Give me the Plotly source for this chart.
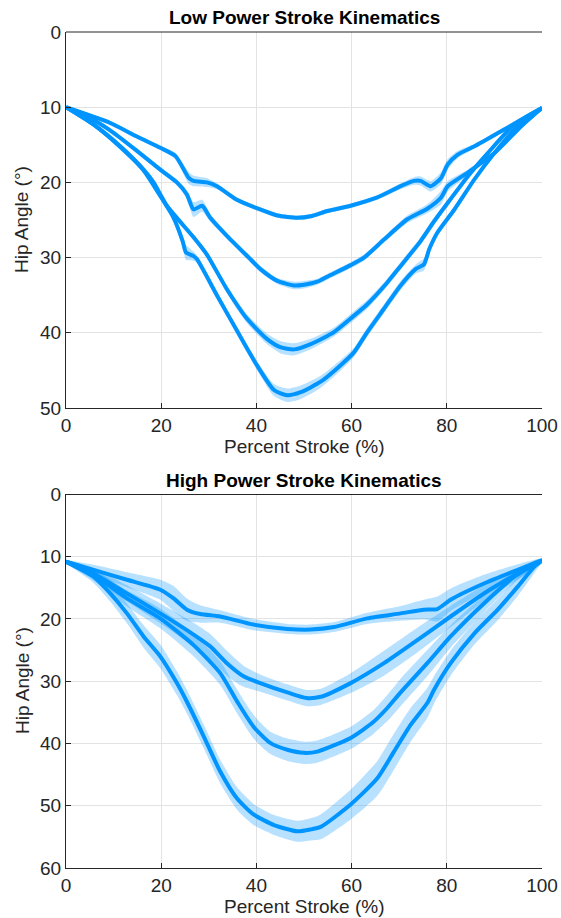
import plotly.graph_objects as go

# ---------------- DATA ----------------
# Low power stroke (top panel): percent stroke vs hip angle (deg), with SD band half-width
low_x1 = [0, 9.3, 14.9, 19.8, 23, 25.8, 26.8, 29.6, 31.7, 35.9, 40.8, 44.4, 48.6, 51.4, 54.9, 59.8, 65.4, 70.3, 73.1, 74.5, 76.6, 78.8, 80.2, 82.3, 85.8, 91.4, 100]
low_y1 = [10, 12.1, 13.9, 15.4, 16.5, 19.4, 19.8, 20, 20.5, 22.3, 23.6, 24.4, 24.7, 24.5, 23.8, 23.1, 22, 20.5, 19.8, 19.8, 20.5, 19.4, 17.6, 16.3, 15.2, 13.2, 10.1]
low_sd1 = [0.2, 0.3, 0.3, 0.3, 0.4, 0.8, 0.7, 0.6, 0.4, 0.3, 0.3, 0.3, 0.3, 0.3, 0.3, 0.3, 0.3, 0.4, 0.5, 0.6, 0.7, 0.8, 0.7, 0.5, 0.3, 0.3, 0.2]

low_x2 = [0, 5.8, 10, 14.9, 19.8, 23.3, 25.4, 26.8, 28.6, 30.3, 33.8, 38.4, 40.8, 44.4, 47.9, 50, 52.8, 55, 59.8, 62.6, 66.8, 71.7, 75.9, 78.8, 80.2, 84.4, 90, 95.7, 100]
low_y2 = [10, 11.7, 13.4, 15.8, 18.3, 20, 21.6, 23.6, 23.1, 24.7, 27.1, 30, 31.5, 33.1, 33.7, 33.6, 33.2, 32.5, 31, 30, 27.6, 24.9, 23.5, 22, 20.5, 18.7, 16.1, 12.5, 10.1]
low_sd2 = [0.2, 0.3, 0.3, 0.3, 0.3, 0.4, 0.6, 1.0, 0.8, 0.5, 0.4, 0.4, 0.4, 0.4, 0.5, 0.5, 0.4, 0.4, 0.4, 0.4, 0.4, 0.5, 0.6, 0.9, 0.7, 0.4, 0.3, 0.3, 0.2]

low_x3 = [0, 5.8, 11.4, 16.3, 18.4, 21.2, 26.8, 29.6, 33.8, 38, 42.2, 45, 47.9, 51.4, 56.3, 59.8, 63.3, 67.5, 70.3, 74.5, 77.3, 80.8, 84.4, 88.6, 94.2, 100]
low_y3 = [10, 12.3, 15.2, 18.3, 20, 23.1, 27.3, 29.6, 34.2, 38.1, 40.8, 41.9, 42.2, 41.5, 39.9, 38.1, 36.2, 33.3, 31.1, 27.8, 25.2, 22.2, 19.2, 16.1, 12.3, 10.1]
low_sd3 = [0.2, 0.3, 0.3, 0.3, 0.3, 0.3, 0.4, 0.4, 0.5, 0.6, 0.7, 0.8, 0.8, 0.7, 0.6, 0.6, 0.6, 0.5, 0.5, 0.5, 0.5, 0.4, 0.4, 0.3, 0.3, 0.2]

low_x4 = [0, 5.8, 11.4, 16.3, 19.8, 22.6, 24.5, 25.2, 26.8, 27.5, 31.7, 35.9, 40.1, 43.7, 46.5, 49.3, 53.5, 57.7, 60.5, 63.3, 66.8, 70.3, 73.5, 75.2, 76.3, 78, 81.6, 85.8, 90, 94.9, 100]
low_y4 = [10, 12.3, 15.3, 18.4, 21.8, 24.7, 27.8, 29.3, 29.8, 30.2, 35, 39.7, 44.3, 47.6, 48.3, 47.9, 46.5, 44.3, 42.6, 39.9, 36.8, 33.7, 31.5, 30.9, 28.9, 26.7, 23.6, 19.6, 16.1, 12.5, 10.1]
low_sd4 = [0.2, 0.3, 0.3, 0.3, 0.4, 0.5, 0.8, 1.0, 0.6, 0.5, 0.5, 0.5, 0.6, 0.8, 0.9, 0.9, 0.8, 0.7, 0.6, 0.6, 0.6, 0.6, 0.6, 0.8, 0.5, 0.4, 0.4, 0.3, 0.3, 0.3, 0.2]

# High power stroke (bottom panel)
high_x1 = [0, 5.8, 12.8, 19.8, 22.6, 25.4, 28.2, 32.4, 39.4, 46.5, 51.4, 56.3, 63.3, 70.3, 75.2, 78, 80.8, 87.8, 94.9, 100]
high_y1 = [10.8, 12.1, 13.7, 15.3, 16.7, 18.5, 19.2, 19.6, 20.9, 21.6, 21.7, 21.3, 19.9, 19.1, 18.5, 18.4, 16.9, 14.3, 12.1, 10.6]
high_sd1 = [0.3, 0.8, 1.2, 1.6, 2.0, 1.8, 1.4, 1.0, 0.9, 0.8, 0.8, 0.8, 0.9, 1.2, 1.6, 2.0, 1.8, 1.4, 0.9, 0.3]

high_x2 = [0, 5.8, 12.8, 19.8, 26.8, 30.3, 33.8, 37.3, 40.8, 46.5, 50.5, 53.5, 59.8, 66.8, 73.8, 80.8, 87.8, 94.9, 100]
high_y2 = [10.8, 12.7, 15.9, 19.1, 22.5, 24.4, 27.1, 29.2, 30.3, 31.8, 32.7, 32.5, 30.3, 27.1, 23.4, 19.6, 15.9, 12.7, 10.6]
high_sd2 = [0.3, 0.9, 1.3, 1.6, 1.9, 2.0, 2.0, 1.7, 1.4, 1.3, 1.3, 1.3, 1.6, 2.0, 2.0, 1.7, 1.3, 0.9, 0.3]

high_x3 = [0, 5.8, 12.8, 19.8, 26.8, 32.4, 35.9, 39.4, 42.9, 46.5, 50, 52.8, 59.8, 64.5, 67.5, 70.3, 75.9, 80.8, 87.8, 94.2, 100]
high_y3 = [10.8, 12.9, 16.7, 19.9, 24.2, 28.7, 33.2, 37.3, 39.9, 41, 41.5, 41.3, 39.1, 36.6, 34.3, 31.8, 27.1, 22.8, 17.5, 13.2, 10.6]
high_sd3 = [0.3, 0.9, 1.3, 1.6, 1.8, 1.9, 1.9, 1.9, 1.8, 1.8, 1.8, 1.8, 1.8, 1.9, 2.1, 2.2, 2.1, 1.8, 1.4, 1.0, 0.3]

high_x4 = [0, 5.8, 9.3, 12.8, 16.3, 19.8, 23.3, 25.4, 28.9, 32.4, 35.9, 39.4, 43.7, 48.6, 51.4, 53.5, 59.8, 65.4, 68.9, 72.4, 75.9, 77.3, 80.8, 85.8, 90.7, 94.9, 98.4, 100]
high_y4 = [10.8, 13.2, 15.9, 19.1, 22.8, 26, 30.3, 33.3, 38.8, 44.5, 48.8, 51.4, 53.1, 54.1, 53.8, 53.4, 49.8, 45.6, 41.3, 37, 33.5, 31.4, 27.1, 22.3, 18.5, 14.8, 11.6, 10.6]
high_sd4 = [0.3, 1.0, 1.3, 1.6, 1.8, 1.9, 1.9, 1.9, 1.9, 1.9, 1.8, 1.7, 1.6, 1.7, 1.8, 2.0, 2.4, 2.8, 2.9, 2.7, 2.4, 2.2, 2.0, 1.8, 1.7, 1.5, 1.0, 0.3]

x_ticks = [0, 20, 40, 60, 80, 100]
low_y_ticks = [0, 10, 20, 30, 40, 50]
high_y_ticks = [0, 10, 20, 30, 40, 50, 60]

titles = ["Low Power Stroke Kinematics", "High Power Stroke Kinematics"]
x_label = "Percent Stroke (%)"
y_label = "Hip Angle (°)"

# ---------------- STYLE ----------------
LINE = "rgb(0,148,255)"
BAND = "rgba(0,148,255,0.28)"
TXT = "#262626"
GRID = "#e3e3e3"
FONT = "Liberation Sans, Arial, Helvetica, sans-serif"

fig = go.Figure()

panels = [
    ("x", "y", [(low_x1, low_y1, low_sd1), (low_x2, low_y2, low_sd2),
                (low_x3, low_y3, low_sd3), (low_x4, low_y4, low_sd4)]),
    ("x2", "y2", [(high_x1, high_y1, high_sd1), (high_x2, high_y2, high_sd2),
                  (high_x3, high_y3, high_sd3), (high_x4, high_y4, high_sd4)]),
]

for xa, ya, series in panels:
    for xs, ys, sds in series:
        up = [y - s for y, s in zip(ys, sds)]
        lo = [y + s for y, s in zip(ys, sds)]
        fig.add_trace(go.Scatter(
            x=list(xs) + list(xs)[::-1], y=up + lo[::-1],
            fill="toself", fillcolor=BAND, mode="lines",
            line=dict(width=0, shape="spline", smoothing=0.6),
            hoverinfo="skip", showlegend=False, xaxis=xa, yaxis=ya))
    for xs, ys, sds in series:
        fig.add_trace(go.Scatter(
            x=xs, y=ys, mode="lines",
            line=dict(color=LINE, width=4, shape="spline", smoothing=0.6),
            showlegend=False, xaxis=xa, yaxis=ya))

axis_common = dict(
    showgrid=True, gridcolor=GRID, gridwidth=1,
    showline=True, linecolor=TXT, linewidth=1.2,
    ticks="inside", ticklen=5, tickcolor=TXT, tickwidth=1,
    tickfont=dict(family=FONT, size=19, color=TXT),
    zeroline=False, automargin=False,
)

top_dom = [0.5502, 1.0]
bot_dom = [0.0, 0.4468]

fig.update_layout(
    width=561, height=918,
    margin=dict(l=66, r=19, t=32, b=50, autoexpand=False),
    paper_bgcolor="white", plot_bgcolor="white",
    font=dict(family=FONT, color=TXT),
    xaxis=dict(domain=[0, 1], range=[0, 100], tickvals=x_ticks, anchor="y", **axis_common),
    yaxis=dict(domain=top_dom, range=[50, 0], tickvals=low_y_ticks, anchor="x", **axis_common),
    xaxis2=dict(domain=[0, 1], range=[0, 100], tickvals=x_ticks, anchor="y2", **axis_common),
    yaxis2=dict(domain=bot_dom, range=[60, 0], tickvals=high_y_ticks, anchor="x2", **axis_common),
)

# top border lines (box top edge)
for ya in ["y", "y2"]:
    xr = "x" if ya == "y" else "x2"
    fig.add_shape(type="line", xref=f"{xr} domain", yref=f"{ya} domain",
                  x0=0, x1=1, y0=1, y1=1, line=dict(color=TXT, width=1.2))

# titles and axis labels
H = 836.0
def py2paper(py):
    return (868 - py) / H

for title, tpy, xlpy, ylpy in [(titles[0], 18, 446, 220), (titles[1], 480, 906, 681)]:
    fig.add_annotation(text=f"<b>{title}</b>", xref="paper", yref="paper",
                       x=0.5, y=py2paper(tpy), showarrow=False,
                       xanchor="center", yanchor="middle",
                       font=dict(family=FONT, size=19, color="black"))
    fig.add_annotation(text=x_label, xref="paper", yref="paper",
                       x=0.5, y=py2paper(xlpy), showarrow=False,
                       xanchor="center", yanchor="middle",
                       font=dict(family=FONT, size=19, color=TXT))
    fig.add_annotation(text=y_label, xref="paper", yref="paper",
                       x=(22 - 66) / 476.0, y=py2paper(ylpy), showarrow=False,
                       textangle=-90, xanchor="center", yanchor="middle",
                       font=dict(family=FONT, size=19, color=TXT))

fig.write_html(
    "out.html",
    config={"displayModeBar": False},
    post_script="document.body.style.margin='0';document.body.style.overflow='hidden';",
)
